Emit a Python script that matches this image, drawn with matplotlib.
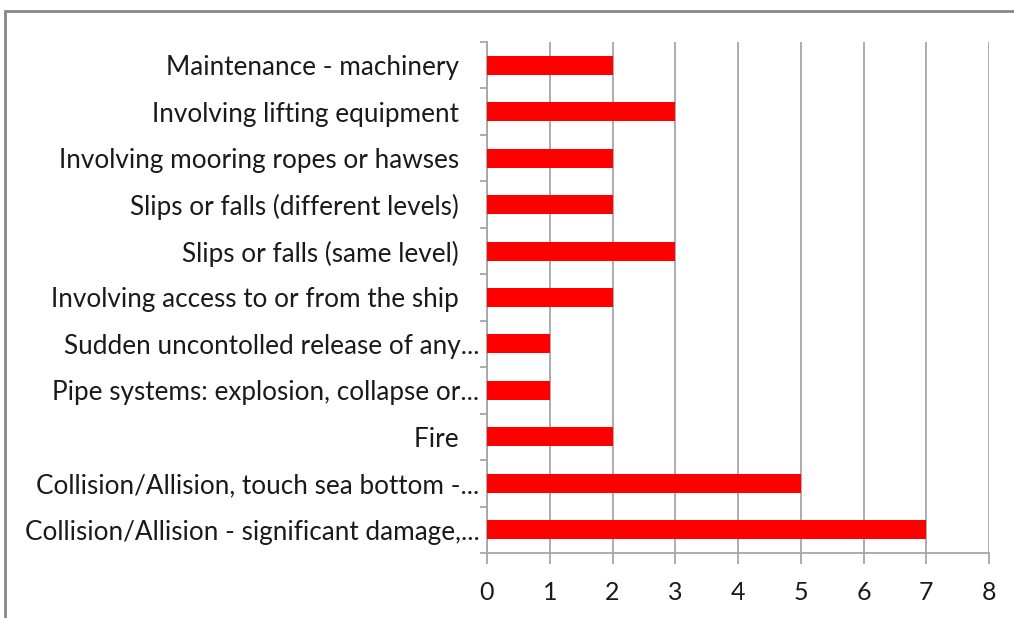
import matplotlib
matplotlib.use("Agg")
import matplotlib.pyplot as plt
import matplotlib.patches as mpatches
import numpy as np

# categories listed top to bottom as in the chart
categories = [
    "Maintenance - machinery",
    "Involving lifting equipment",
    "Involving mooring ropes or hawses",
    "Slips or falls (different levels)",
    "Slips or falls (same level)",
    "Involving access to or from the ship",
    "Sudden uncontolled release of any...",
    "Pipe systems: explosion, collapse or...",
    "Fire",
    "Collision/Allision, touch sea bottom -...",
    "Collision/Allision - significant damage,...",
]
counts = [2, 3, 2, 2, 3, 2, 1, 1, 2, 5, 7]
x_ticks = [0, 1, 2, 3, 4, 5, 6, 7, 8]

plt.rcParams['font.family'] = ['Lato', 'DejaVu Sans']
grey = '#a6a6a6'

fig = plt.figure(figsize=(10.14, 6.18), dpi=100)
ax = fig.add_axes([487/1014, 1 - 553/618, 502/1014, 511/618])

n = len(categories)
ypos = np.arange(n)[::-1]
ax.barh(ypos, counts, height=0.41, color='#ff0000', edgecolor='none', zorder=3)

ax.set_xlim(0, 8)
ax.set_ylim(-0.5, n - 0.5)
ax.set_xticks(x_ticks)
ax.set_xticklabels([str(t) for t in x_ticks], fontsize=18, color='#1a1a1a')
ax.xaxis.grid(True, color=grey, lw=1.3, zorder=0)

# full labels carry trailing space in the original, truncated ones don't
labels = [c if c.endswith('...') else c + '   ' for c in categories]

# category labels at bar centres, tick marks at boundaries
ax.set_yticks(ypos)
ax.set_yticklabels(labels, fontsize=18.8, color='#1a1a1a')
ax.tick_params(axis='y', length=0, pad=5.5)
ax.set_yticks(np.arange(n + 1) - 0.5, minor=True)
ax.tick_params(axis='y', which='minor', length=5, color=grey, width=1.3)
ax.tick_params(axis='x', length=8, color=grey, width=1.3, pad=12)

for s in ['top', 'right']:
    ax.spines[s].set_visible(False)
for s in ['left', 'bottom']:
    ax.spines[s].set_color(grey)
    ax.spines[s].set_linewidth(1.3)

# outer chart frame
frame = mpatches.Rectangle((5/1014, -0.1), 1.2, 1 - 11/618 + 0.1, transform=fig.transFigure,
                           fill=False, edgecolor='#878787', lw=2, clip_on=False)
fig.patches.append(frame)

fig.savefig("out.png", dpi=100)
